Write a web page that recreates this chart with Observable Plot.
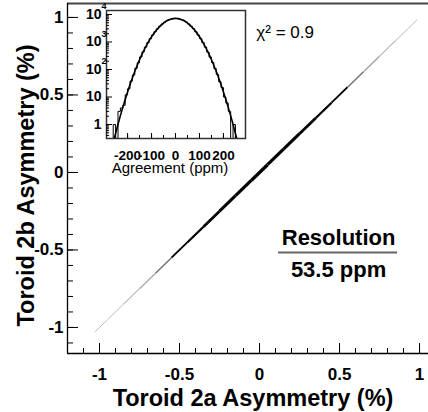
<!DOCTYPE html>
<html>
<head>
<meta charset="utf-8">
<script src="https://cdn.jsdelivr.net/npm/d3@7"></script>
<script src="https://cdn.jsdelivr.net/npm/@observablehq/plot@0.6"></script>
<style>
  body { margin: 0; background: white; }
  #wrap { position: relative; width: 428px; height: 412px; overflow: hidden; }
  #wrap svg { position: absolute; left: 0; top: 0; }
</style>
</head>
<body>
<div id="wrap"></div>
<script>
// ---------- Main scatter: Toroid 2a vs Toroid 2b asymmetry (%) ----------
const diagEdgesX = [-1.03, -0.95, -0.85, -0.75, -0.65, -0.55, -0.45, -0.35, -0.25, -0.15, -0.05, 0.05, 0.15, 0.25, 0.35, 0.45, 0.55, 0.65, 0.75, 0.85, 0.95, 0.985];
const diagEdgesY = [-1.03, -0.95, -0.85, -0.75, -0.65, -0.55, -0.45, -0.35, -0.25, -0.15, -0.05, 0.05, 0.15, 0.25, 0.35, 0.45, 0.55, 0.65, 0.75, 0.85, 0.95, 0.985];
const diagCounts = [2, 4, 8, 20, 60, 150, 300, 500, 700, 800, 850, 800, 700, 500, 300, 150, 60, 25, 10, 5, 3];

const mainXTickLabels = [-1, -0.5, 0, 0.5, 1];
const mainYTickLabels = [-1, -0.5, 0, 0.5, 1];

// ---------- Inset: agreement histogram (ppm) ----------
const histEdges = [-270, -260, -250, -240, -230, -220, -210, -200, -190, -180, -170, -160, -150, -140, -130, -120, -110, -100, -90, -80, -70, -60, -50, -40, -30, -20, -10, 0, 10, 20, 30, 40, 50, 60, 70, 80, 90, 100, 110, 120, 130, 140, 150, 160, 170, 180, 190, 200, 210, 220, 230, 240, 250, 260, 270];
const histCounts = [0, 1, 0, 3, 4, 5, 12, 20, 38, 63, 110, 175, 285, 440, 648, 940, 1318, 1800, 2370, 3020, 3760, 4520, 5270, 5960, 6540, 6950, 7170, 7175, 6960, 6530, 5970, 5280, 4510, 3750, 3030, 2360, 1790, 1325, 945, 652, 432, 280, 180, 108, 66, 36, 22, 10, 6, 3, 0, 1, 0, 0];

const fitX = [-258, -250, -240, -230, -220, -210, -200, -190, -180, -170, -160, -150, -140, -130, -120, -110, -100, -90, -80, -70, -60, -50, -40, -30, -20, -10, 0, 10, 20, 30, 40, 50, 60, 70, 80, 90, 100, 110, 120, 130, 140, 150, 160, 170, 180, 190, 200, 210, 220, 230, 240, 250, 258];
const fitY = [0.26, 0.47, 1.02, 2.1, 4.2, 8.1, 15.3, 27.8, 49.2, 84.2, 140, 225.6, 353, 534, 785, 1119, 1546, 2070, 2689, 3388, 4136, 4897, 5630, 6270, 6770, 7090, 7200, 7090, 6770, 6270, 5630, 4897, 4136, 3388, 2689, 2070, 1546, 1119, 785, 534, 353, 225.6, 140, 84.2, 49.2, 27.8, 15.3, 8.1, 4.2, 2.1, 1.02, 0.47, 0.26];

const insetXTickLabels = [-200, -100, 0, 100, 200];
const insetYTickValues = [1, 10, 100, 1000, 10000];
const insetYTickBase = ["1", "10", "10", "10", "10"];
const insetYTickExp = ["", "", "2", "3", "4"];

const chi2Label = "χ² = 0.9";
const resolutionTitle = "Resolution";
const resolutionValue = "53.5 ppm";
const xTitle = "Toroid 2a Asymmetry (%)";
const yTitle = "Toroid 2b Asymmetry (%)";
const insetXTitle = "Agreement (ppm)";

const FONT = "'Liberation Sans', Arial, Helvetica, sans-serif";

// ---------- build main ----------
const segs = diagCounts.map((c, i) => ({
  x1: diagEdgesX[i], x2: diagEdgesX[i + 1],
  y1: diagEdgesY[i], y2: diagEdgesY[i + 1], c
}));
const segWidth = d => 0.8 + 2.5 * Math.sqrt(d.c / 850);
const segColor = d => { const v = Math.round(190 * Math.max(0, 1 - d.c / 150)); return `rgb(${v},${v},${v})`; };

const xDomain = [-1.2, 1.056];
const yDomain = [-1.168, 1.09];
const minorMain = d3.range(-11, 11).map(i => i / 10);

const main = Plot.plot({
  width: 428, height: 412,
  marginLeft: 67, marginRight: 0, marginTop: 3, marginBottom: 59,
  style: `font-family: ${FONT}; background: white;`,
  x: {domain: xDomain},
  y: {domain: yDomain},
  marks: [
    Plot.link(segs, {x1: "x1", y1: "y1", x2: "x2", y2: "y2", stroke: segColor, strokeWidth: segWidth, strokeLinecap: "butt"}),
    // frame lines
    Plot.ruleY([yDomain[1]], {stroke: "#444", strokeWidth: 2}),
    Plot.ruleX([xDomain[0]], {stroke: "black", strokeWidth: 1.3}),
    Plot.ruleY([yDomain[0]], {stroke: "black", strokeWidth: 1.3}),
    // ticks (inside)
    Plot.axisX({ticks: minorMain, tickSize: -5, tickFormat: () => "", label: null, stroke: "black"}),
    Plot.axisX({ticks: mainXTickLabels, tickSize: -10, tickFormat: () => "", label: null, stroke: "black"}),
    Plot.axisY({ticks: minorMain, tickSize: -6, tickFormat: () => "", label: null, stroke: "black"}),
    Plot.axisY({ticks: mainYTickLabels, tickSize: -11, tickFormat: () => "", label: null, stroke: "black"}),
    // tick labels
    Plot.axisX({ticks: mainXTickLabels, tickSize: 0, tickPadding: 14, tickFormat: d => String(d), label: null, fontSize: 17, fontWeight: "bold"}),
    Plot.axisY({ticks: mainYTickLabels, tickSize: 0, tickPadding: 4, tickFormat: d => String(d), label: null, fontSize: 17, fontWeight: "bold"}),
    // titles
    Plot.text([xTitle], {frameAnchor: "bottom", text: d => d, dx: 5, dy: 45, fontSize: 23.5, fontWeight: "bold", lineAnchor: "middle", textAnchor: "middle"}),
    Plot.text([yTitle], {frameAnchor: "left", text: d => d, dx: -41, dy: 7, rotate: -90, fontSize: 23.5, fontWeight: "bold", lineAnchor: "middle", textAnchor: "middle"}),
    // annotations
    Plot.text([chi2Label], {x: -0.02, y: 0.903, text: d => d, textAnchor: "start", fontSize: 17}),
    Plot.text([resolutionTitle], {x: 0.494, y: -0.42, text: d => d, fontSize: 22, fontWeight: "bold"}),
    Plot.ruleY([-0.516], {x1: 0.119, x2: 0.8625, stroke: "#666", strokeWidth: 2}),
    Plot.text([resolutionValue], {x: 0.494, y: -0.632, text: d => d, fontSize: 22, fontWeight: "bold"})
  ]
});

// ---------- build inset ----------
const yFloor = 0.31;
const histPts = histCounts.map((c, i) => ({x: histEdges[i], y: Math.max(c, yFloor)}));
histPts.push({x: histEdges[histEdges.length - 1], y: Math.max(histCounts[histCounts.length - 1], yFloor)});
const fitPts = fitX.map((x, i) => ({x, y: fitY[i]}));

const logMinor = [];
for (const dec of [0.1, 1, 10, 100, 1000]) for (let k = 2; k <= 9; k++) { const v = dec * k; if (v >= yFloor && v <= 13970) logMinor.push(v); }
const insetMinorX = d3.range(-250, 251, 50);

const inset = Plot.plot({
  width: 428, height: 200,
  marginLeft: 106, marginRight: 183, marginTop: 10, marginBottom: 62,
  style: `font-family: ${FONT}; background: transparent;`,
  x: {domain: [-288, 292]},
  y: {type: "log", domain: [yFloor, 13970]},
  marks: [
    Plot.frame({fill: "white", stroke: null}),
    Plot.line(histPts, {x: "x", y: "y", curve: "step-after", stroke: "black", strokeWidth: 1, clip: true}),
    Plot.line(fitPts, {x: "x", y: "y", curve: "catmull-rom", stroke: "black", strokeWidth: 1.6, clip: true}),
    Plot.frame({stroke: "#333", strokeWidth: 1.5}),
    Plot.axisY({ticks: logMinor, tickSize: -3, tickFormat: () => "", label: null, stroke: "black"}),
    Plot.axisY({ticks: insetYTickValues, tickSize: -6, tickFormat: () => "", label: null, stroke: "black"}),
    Plot.axisX({ticks: insetMinorX, tickSize: -3, tickFormat: () => "", label: null, stroke: "black"}),
    Plot.axisX({ticks: insetXTickLabels, tickSize: -5, tickFormat: () => "", label: null, stroke: "black"}),
    Plot.axisY({ticks: insetYTickValues, tickSize: 0, tickPadding: 5, tickFormat: d => insetYTickBase[insetYTickValues.indexOf(d)], label: null, fontSize: 14, fontWeight: "bold"}),
    Plot.text(insetYTickValues, {y: d => d, text: (d, i) => insetYTickExp[i], frameAnchor: "left", dx: -5, dy: -8, textAnchor: "start", fontSize: 9, fontWeight: "bold"}),
    Plot.axisX({ticks: insetXTickLabels, tickSize: 0, tickPadding: 12, tickFormat: d => String(d), label: null, fontSize: 13.5, fontWeight: "bold"}),
    Plot.text([insetXTitle], {frameAnchor: "bottom", text: d => d, dx: -6, dy: 30, fontSize: 15, lineAnchor: "middle", textAnchor: "middle"})
  ]
});

const wrap = document.getElementById("wrap");
wrap.appendChild(main);
wrap.appendChild(inset);
</script>
</body>
</html>
